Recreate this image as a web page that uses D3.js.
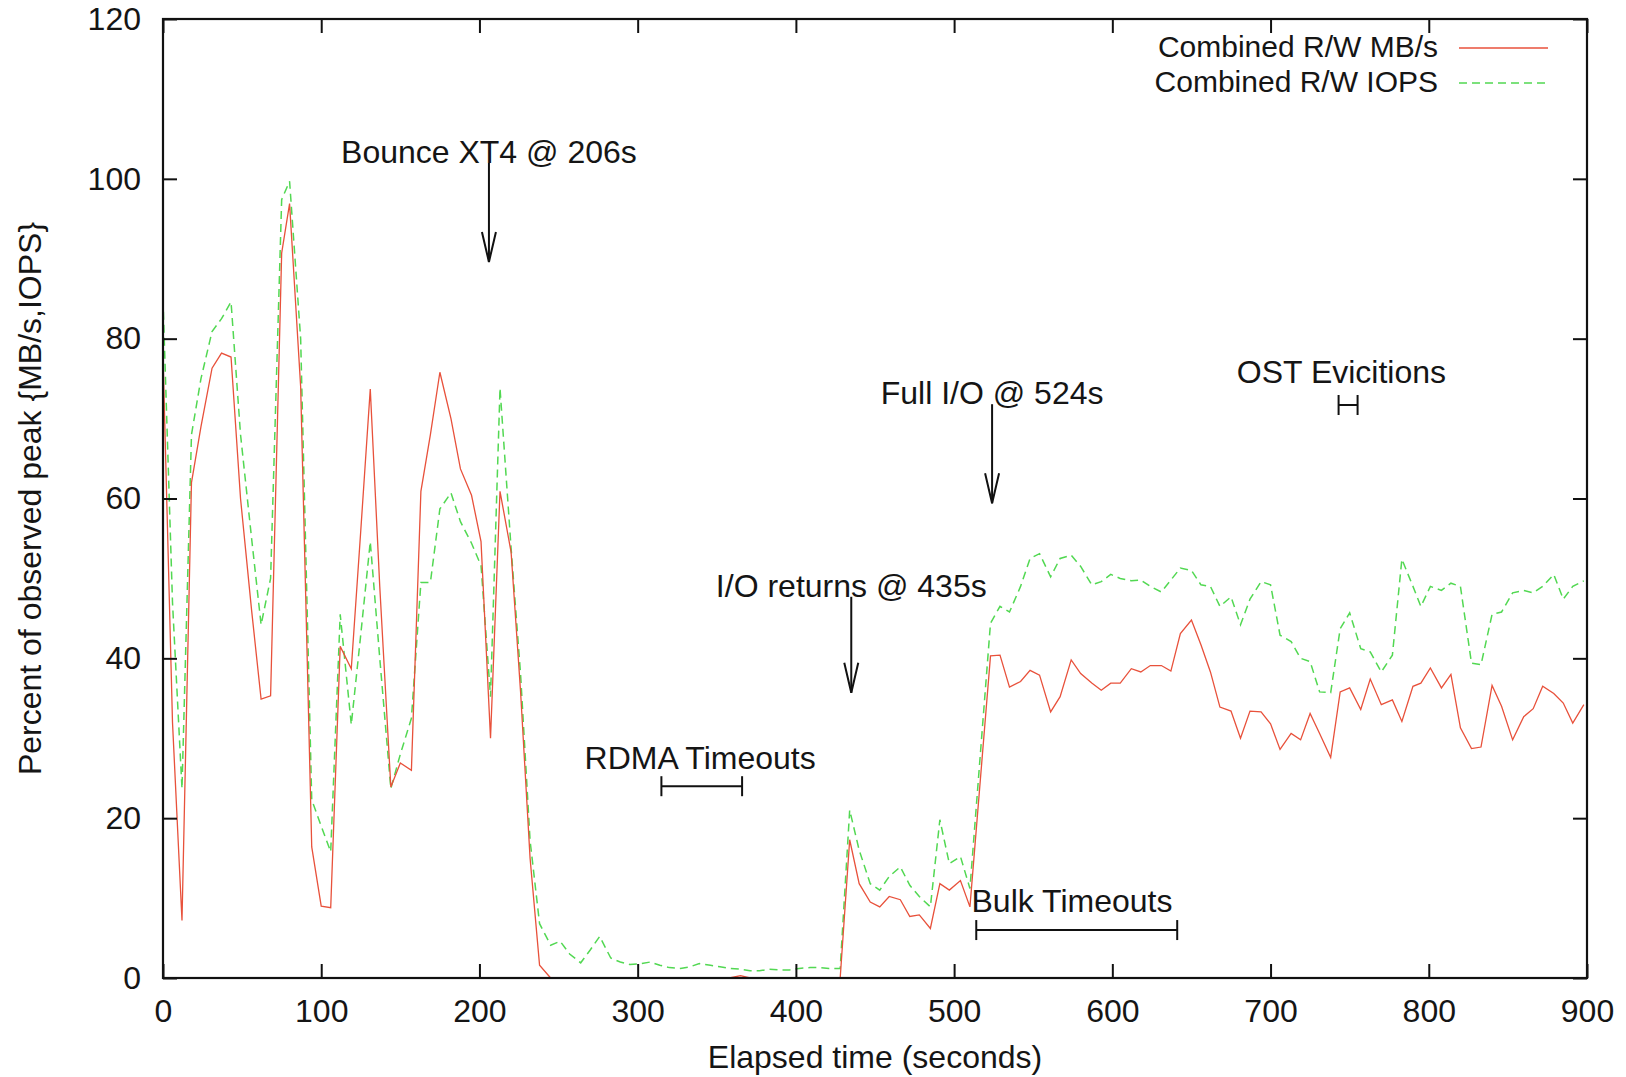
<!DOCTYPE html>
<html>
<head>
<meta charset="utf-8">
<script src="https://cdn.jsdelivr.net/npm/d3@7/dist/d3.min.js"></script>
<style>
  body { margin: 0; background: #fff; }
  text { font-family: "Liberation Sans", Arial, Helvetica, sans-serif; fill: #151515; }
</style>
</head>
<body>
<svg id="graph" width="1626" height="1077"></svg>
<script>
/*******************************************************************************************/
// Data

var seconds = [0, 6, 12, 18, 24, 31, 37, 43, 49, 56, 62, 68, 75, 80, 87, 94, 100, 106, 112, 119,
  125, 131, 137, 144, 150, 157, 163, 169, 175, 182, 188, 195, 201, 207, 213, 220, 226, 232, 238, 245,
  251, 257, 264, 270, 276, 283, 289, 295, 302, 308, 314, 320, 327, 333, 339, 346, 352, 358, 365, 371,
  377, 383, 390, 396, 402, 409, 415, 421, 428, 434, 440, 447, 453, 459, 466, 472, 478, 485, 491, 497,
  504, 510, 523, 529, 535, 542, 548, 554, 561, 567, 574, 580, 587, 593, 599, 605, 612, 618, 624, 631,
  637, 643, 650, 656, 662, 668, 675, 681, 687, 694, 700, 706, 713, 719, 725, 731, 738, 744, 750, 757,
  763, 770, 777, 783, 790, 795, 801, 808, 814, 820, 827, 833, 840, 846, 853, 860, 866, 872, 879, 885,
  891, 898];

var mbps = [78, 32, 7.2, 62, 69, 76.3, 78.2, 77.7, 60, 46, 34.9, 35.3, 90.7, 96.9, 74, 16.4, 9.0, 8.8, 41.5, 38.7,
  56, 73.7, 49, 23.9, 26.9, 26, 60.9, 68, 75.8, 70, 63.7, 60.4, 54.6, 30, 60.9, 53.3, 35.8, 15, 1.6, 0,
  0, 0, 0, 0, 0, 0, 0, 0, 0, 0, 0, 0, 0, 0, 0, 0, 0, 0, 0.3, 0,
  0, 0, 0, 0, 0, 0, 0, 0, 0, 17.3, 11.8, 9.5, 8.9, 10.2, 9.8, 7.7, 7.9, 6.2, 11.8, 11.0,
  12.2, 8.9, 40.3, 40.4, 36.4, 37.1, 38.5, 37.9, 33.3, 35.2, 39.8, 38.1, 36.9, 36, 36.9, 36.9, 38.7, 38.3, 39.1, 39.1,
  38.4, 43.1, 44.8, 41.7, 38.3, 33.9, 33.4, 30, 33.4, 33.3, 31.8, 28.6, 30.6, 29.8, 33.1, 30.6, 27.6, 35.8, 36.3, 33.6,
  37.4, 34.2, 34.8, 32.1, 36.5, 36.9, 38.8, 36.3, 38, 31.3, 28.7, 28.9, 36.6, 34, 29.8, 32.7, 33.7, 36.5, 35.6, 34.4,
  31.9, 34.2];

var iops = [85, 47, 23.7, 68, 75, 80.9, 82.5, 84.6, 68, 55, 44.2, 50, 97.4, 99.7, 80, 22.3, 19, 15.8, 45.5, 31.7,
  43, 54.6, 40, 23.7, 28, 32.5, 49.5, 49.5, 58.7, 60.7, 57.1, 54.4, 51.6, 35.2, 73.8, 53.8, 38, 17.2, 6.8, 4.1,
  4.6, 3, 1.9, 3.5, 5.2, 2.5, 2.0, 1.7, 1.8, 2.0, 1.6, 1.3, 1.2, 1.4, 1.8, 1.6, 1.4, 1.2, 1.1, 0.9,
  0.9, 1.1, 1.0, 1.0, 1.2, 1.3, 1.3, 1.2, 1.2, 21, 16, 11.8, 11.0, 12.7, 13.9, 11.6, 10.2, 8.9, 19.8, 14.3,
  15.2, 11.2, 44.4, 46.5, 45.8, 49, 52.5, 53.1, 50.2, 52.5, 52.9, 51.5, 49.2, 49.6, 50.5, 50, 49.7, 49.8, 49, 48.3,
  49.8, 51.3, 51, 49.2, 49, 46.5, 47.7, 44.2, 47.4, 49.6, 49.2, 42.9, 42.1, 40, 39.6, 35.8, 35.7, 43.7, 45.7, 41.2,
  40.8, 38.3, 40.4, 52.4, 49, 46.5, 49, 48.5, 49.4, 49, 39.4, 39.2, 45.5, 45.8, 48.2, 48.5, 48.2, 49, 50.5, 47.4,
  49, 49.7];

var xTicks = [0, 100, 200, 300, 400, 500, 600, 700, 800, 900];
var yTicks = [0, 20, 40, 60, 80, 100, 120];
var seriesNames = ['Combined R/W MB/s', 'Combined R/W IOPS'];

// event arrows: label at 'from', arrow head at 'to'
var arrowNotes = [
  { text: 'Bounce XT4 @ 206s', t: 206, from: 102, to: 89.6 },
  { text: 'I/O returns @ 435s', t: 435, from: 47.7, to: 35.7 },
  { text: 'Full I/O @ 524s', t: 524, from: 71.8, to: 59.4 }
];

// interval bars
var spanNotes = [
  { text: 'RDMA Timeouts', t0: 315, t1: 366, v: 24, labelT: 339.5, labelV: 26.1 },
  { text: 'Bulk Timeouts', t0: 514, t1: 641, v: 6, labelT: 574.5, labelV: 8.3 },
  { text: 'OST Evicitions', t0: 743, t1: 755, v: 71.7, labelT: 744.8, labelV: 74.4 }
];

/*************************************************/

var svg = d3.select('#graph');
var margin = { left: 163, right: 39, top: 19, bottom: 99 };
var width = 1626 - margin.left - margin.right;
var height = 1077 - margin.top - margin.bottom;

var xScale = d3.scaleLinear().domain([0, 900]).range([0, width]);
var yScale = d3.scaleLinear().domain([0, 120]).range([height, 0]);

var origin = svg.append('g').attr('transform', 'translate(' + margin.left + ',' + margin.top + ')');

var lineGen = d3.line().x(function(d){ return xScale(d.t) }).y(function(d){ return yScale(d.v) });

var mbData = seconds.map(function(t, i){ return { t: t, v: mbps[i] } });
var iopsData = seconds.map(function(t, i){ return { t: t, v: iops[i] } });

var redColor = '#e8513b', greenColor = '#52d852';

origin.append('path').attr('d', lineGen(iopsData))
  .style('fill', 'none').style('stroke', greenColor).style('stroke-width', 1.5).style('stroke-dasharray', '8,5');
origin.append('path').attr('d', lineGen(mbData))
  .style('fill', 'none').style('stroke', redColor).style('stroke-width', 1.3);

/*************************************************/
// Axes, ticks pointing inward on all four sides

var fontSize = '32px';

var axB = origin.append('g').attr('transform', 'translate(0,' + height + ')')
  .call(d3.axisBottom(xScale).tickValues(xTicks).tickSizeInner(-14).tickSizeOuter(0).tickPadding(21));
var axL = origin.append('g')
  .call(d3.axisLeft(yScale).tickValues(yTicks).tickSizeInner(-14).tickSizeOuter(0).tickPadding(22));
var axT = origin.append('g')
  .call(d3.axisTop(xScale).tickValues(xTicks).tickSizeInner(-14).tickSizeOuter(0).tickFormat(''));
var axR = origin.append('g').attr('transform', 'translate(' + width + ',0)')
  .call(d3.axisRight(yScale).tickValues(yTicks).tickSizeInner(-14).tickSizeOuter(0).tickFormat(''));

[axB, axL, axT, axR].forEach(function(ax){
  ax.select('.domain').remove();
  ax.selectAll('line').style('stroke', '#111').style('stroke-width', 2);
  ax.selectAll('text').style('font-size', fontSize).style('fill', '#151515');
  ax.attr('font-family', null);
});

origin.append('rect').attr('x', 0).attr('y', 0).attr('width', width).attr('height', height)
  .style('fill', 'none').style('stroke', '#111').style('stroke-width', 2.2);

// axis titles
svg.append('text').attr('x', margin.left + width / 2).attr('y', 1068)
  .style('text-anchor', 'middle').style('font-size', fontSize).text('Elapsed time (seconds)');
svg.append('text').attr('transform', 'translate(41,' + (margin.top + height / 2) + ') rotate(-90)')
  .style('text-anchor', 'middle').style('font-size', fontSize).text('Percent of observed peak {MB/s,IOPS}');

/*************************************************/
// Annotations

arrowNotes.forEach(function(d){
  var x = xScale(d.t), y1 = yScale(d.from), y2 = yScale(d.to);
  origin.append('line').attr('x1', x).attr('y1', y1).attr('x2', x).attr('y2', y2)
    .style('stroke', '#111').style('stroke-width', 2);
  origin.append('path').attr('d', 'M' + (x - 7) + ',' + (y2 - 30) + 'L' + x + ',' + y2 + 'L' + (x + 7) + ',' + (y2 - 30))
    .style('fill', 'none').style('stroke', '#111').style('stroke-width', 2);
  origin.append('text').attr('x', x).attr('y', y1).style('text-anchor', 'middle').style('font-size', fontSize).text(d.text);
});

spanNotes.forEach(function(d){
  var x0 = xScale(d.t0), x1 = xScale(d.t1), y = yScale(d.v);
  var g = origin.append('g').style('stroke', '#111').style('stroke-width', 2);
  g.append('line').attr('x1', x0).attr('y1', y).attr('x2', x1).attr('y2', y);
  g.append('line').attr('x1', x0).attr('y1', y - 10).attr('x2', x0).attr('y2', y + 10);
  g.append('line').attr('x1', x1).attr('y1', y - 10).attr('x2', x1).attr('y2', y + 10);
  origin.append('text').attr('x', xScale(d.labelT)).attr('y', yScale(d.labelV))
    .style('text-anchor', 'middle').style('font-size', fontSize).text(d.text);
});

/*************************************************/
// Legend

var legend = svg.append('g').attr('transform', 'translate(1438,57)');
seriesNames.forEach(function(name, i){
  legend.append('text').attr('x', 0).attr('y', i * 35).style('text-anchor', 'end').style('font-size', '30px').text(name);
  legend.append('line').attr('x1', 21).attr('x2', 110).attr('y1', i * 35 - 9).attr('y2', i * 35 - 9)
    .style('stroke', i == 0 ? redColor : greenColor).style('stroke-width', 1.5)
    .style('stroke-dasharray', i == 0 ? null : '8,5');
});
</script>
</body>
</html>
